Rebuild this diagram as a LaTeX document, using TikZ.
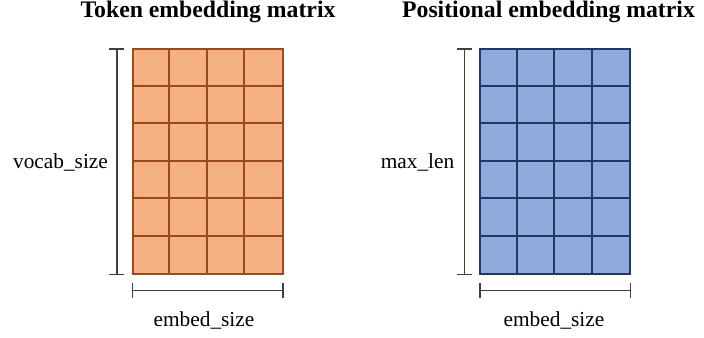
\documentclass[tikz,border=0pt]{standalone}
\usepackage{fontspec}
\setmainfont{Liberation Serif}
\usetikzlibrary{arrows.meta}
\definecolor{TokFill}{HTML}{F4B183}
\definecolor{TokLine}{HTML}{9C4A17}
\definecolor{PosFill}{HTML}{8FAADC}
\definecolor{PosLine}{HTML}{1F3864}
\definecolor{DimGray}{HTML}{404040}

\begin{document}
\begin{tikzpicture}[x=0.75pt,y=-0.75pt,line width=1.5pt,
    matbox/.style={rectangle,inner sep=0pt,minimum width=112.5pt,minimum height=168.75pt},
    dimline/.style={draw=DimGray,line width=1.1pt,{Bar[width=11.25pt]}-{Bar[width=11.25pt]}},
    titlelbl/.style={font=\bfseries\fontsize{17.8}{21}\selectfont},
    dimlbl/.style={font=\fontsize{16}{19}\selectfont}]
  \useasboundingbox (0,0) rectangle (704,338);

  % token embedding matrix
  \node[matbox,fill=TokFill,draw=TokLine] (tokMat) at (207.5,162) {};
  \foreach \i in {1,2,3} \draw[TokLine] (tokMat.north west) ++(37.5*\i,0) -- ++(0,225);
  \foreach \j in {1,...,5} \draw[TokLine] (tokMat.north west) ++(0,37.5*\j) -- ++(150,0);

  % positional embedding matrix
  \node[matbox,fill=PosFill,draw=PosLine] (posMat) at (555.3,162) {};
  \foreach \i in {1,2,3} \draw[PosLine] (posMat.north west) ++(37.5*\i,0) -- ++(0,225);
  \foreach \j in {1,...,5} \draw[PosLine] (posMat.north west) ++(0,37.5*\j) -- ++(150,0);

  % dimension brackets
  \coordinate (tokTop) at ([xshift=-10.9pt]tokMat.north west);
  \coordinate (tokBot) at ([xshift=-10.9pt]tokMat.south west);
  \coordinate (tokL) at ([yshift=-11.25pt]tokMat.south west);
  \coordinate (tokR) at ([yshift=-11.25pt]tokMat.south east);
  \draw[dimline] (tokTop) -- (tokBot);
  \draw[dimline] (tokL) -- (tokR);

  \coordinate (posTop) at ([xshift=-11.25pt]posMat.north west);
  \coordinate (posBot) at ([xshift=-11.25pt]posMat.south west);
  \coordinate (posL) at ([yshift=-11.25pt]posMat.south west);
  \coordinate (posR) at ([yshift=-11.25pt]posMat.south east);
  \draw[dimline] (posTop) -- (posBot);
  \draw[dimline] (posL) -- (posR);

  \node[titlelbl] (tokTitle) at (208,12) {Token embedding matrix};
  \node[titlelbl] (posTitle) at (548.5,12) {Positional embedding matrix};

  \node[dimlbl] (vocabLbl) at (60.5,162) {vocab\_size};
  \node[dimlbl] (maxLbl) at (417.5,162) {max\_len};
  \node[dimlbl] (tokEmbLbl) at (204,320) {embed\_size};
  \node[dimlbl] (posEmbLbl) at (554,320) {embed\_size};
\end{tikzpicture}
\end{document}
